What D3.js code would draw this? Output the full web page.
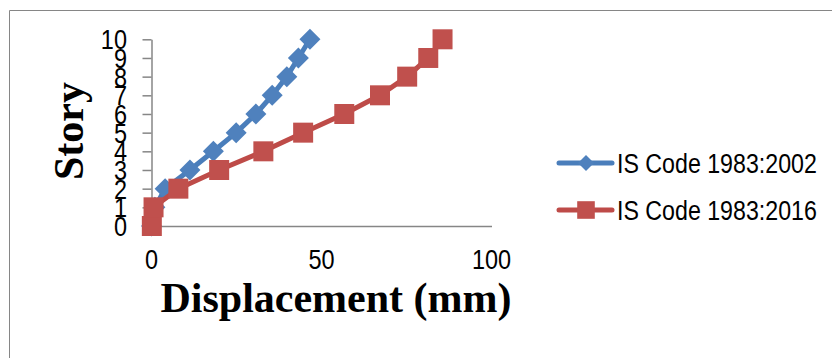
<!DOCTYPE html>
<html>
<head>
<meta charset="utf-8">
<script src="https://cdn.jsdelivr.net/npm/d3@7"></script>
<style>
  html, body { margin: 0; padding: 0; background: #fff; }
  svg { display: block; }
</style>
</head>
<body>
<svg id="chart" width="832" height="358"></svg>
<script>
// Story levels and lateral displacement (mm) per code revision
const stories = [0, 1, 2, 3, 4, 5, 6, 7, 8, 9, 10];
const disp2002 = [0, 1.0, 4.0, 11.3, 18.2, 24.9, 30.7, 35.5, 39.8, 43.2, 46.6];
const disp2016 = [0.1, 0.6, 7.9, 19.9, 32.9, 44.6, 56.7, 67.2, 75.2, 81.4, 85.6];
const seriesNames = ["IS Code 1983:2002", "IS Code 1983:2016"];
const xTicks = [0, 50, 100];
const yTicks = [0, 1, 2, 3, 4, 5, 6, 7, 8, 9, 10];

const svg = d3.select("#chart");
const labelFont = "'Liberation Sans', Arial, sans-serif";
const titleFont = "'Liberation Serif', 'Times New Roman', serif";
const axisGrey = "#868686";
const labelSize = 23.5;
const stretch = 1.18; // tall, narrow label glyphs

// outer frame (runs off the right and bottom edges)
svg.append("path")
  .attr("d", "M9.5,358 L9.5,10.5 L832,10.5")
  .attr("fill", "none").attr("stroke", axisGrey).attr("stroke-width", 1);

const x = d3.scaleLinear().domain([0, 100]).range([151.5, 491.5]);
const y = d3.scaleLinear().domain([0, 10]).range([226, 39.3]);

// y axis: line with outward ticks
const yAxis = svg.append("g").attr("transform", `translate(${x(0)},0)`)
  .call(d3.axisLeft(y).tickValues(yTicks).tickSize(9).tickSizeOuter(0).tickFormat(""));
yAxis.select(".domain").attr("stroke", axisGrey).attr("stroke-width", 1.5);
yAxis.selectAll(".tick line").attr("stroke", axisGrey).attr("stroke-width", 1.5);

// y labels, right-aligned left of the ticks
svg.append("g").selectAll("g").data(yTicks).join("g")
  .attr("transform", d => `translate(127,${y(d)}) scale(1,${stretch})`)
  .append("text")
  .attr("text-anchor", "end").attr("dy", "0.358em")
  .attr("font-family", labelFont).attr("font-size", labelSize).attr("fill", "#000")
  .text(d => d);

// x axis: plain line, labels below
const xAxis = svg.append("g").attr("transform", `translate(0,${y(0)})`)
  .call(d3.axisBottom(x).tickValues(xTicks).tickSize(0).tickSizeOuter(0).tickFormat(""));
xAxis.select(".domain").attr("stroke", axisGrey).attr("stroke-width", 1.5);

svg.append("g").selectAll("g").data(xTicks).join("g")
  .attr("transform", d => `translate(${x(d)},269) scale(1,${stretch})`)
  .append("text")
  .attr("text-anchor", "middle")
  .attr("font-family", labelFont).attr("font-size", labelSize).attr("fill", "#000")
  .text(d => d);

// axis titles
svg.append("text")
  .attr("x", 336).attr("y", 312)
  .attr("text-anchor", "middle")
  .attr("font-family", titleFont).attr("font-weight", "bold").attr("font-size", 42)
  .text("Displacement (mm)");
svg.append("text")
  .attr("transform", "translate(83,131) rotate(-90)")
  .attr("text-anchor", "middle")
  .attr("font-family", titleFont).attr("font-weight", "bold").attr("font-size", 42)
  .text("Story");

const diamond = r => `M0,${-r} L${r},0 L0,${r} L${-r},0 Z`;
const square = r => `M${-r},${-r} L${r},${-r} L${r},${r} L${-r},${r} Z`;

const series = [
  { name: seriesNames[0], values: disp2002, line: "#4a7ebb", fill: "#4f81bd", marker: diamond, size: 10.5, legendSize: 8 },
  { name: seriesNames[1], values: disp2016, line: "#be4b48", fill: "#c0504d", marker: square, size: 10, legendSize: 8.8 }
];

const line = d3.line().x(d => x(d[0])).y(d => y(d[1]));

series.forEach(s => {
  const pts = s.values.map((v, i) => [v, stories[i]]);
  const g = svg.append("g");
  g.append("path").datum(pts)
    .attr("d", line)
    .attr("fill", "none").attr("stroke", s.line)
    .attr("stroke-width", 5).attr("stroke-linejoin", "round").attr("stroke-linecap", "round");
  g.selectAll("path.m").data(pts).join("path")
    .attr("class", "m")
    .attr("d", s.marker(s.size))
    .attr("transform", d => `translate(${x(d[0])},${y(d[1])})`)
    .attr("fill", s.fill);
});

// legend
const legend = svg.append("g");
series.forEach((s, i) => {
  const ly = 163 + i * 47;
  legend.append("line")
    .attr("x1", 559).attr("x2", 612).attr("y1", ly).attr("y2", ly)
    .attr("stroke", s.line).attr("stroke-width", 5).attr("stroke-linecap", "round");
  legend.append("path").attr("d", s.marker(s.legendSize))
    .attr("transform", `translate(586,${ly})`)
    .attr("fill", s.fill);
  legend.append("g")
    .attr("transform", `translate(617,${ly}) scale(1,${stretch})`)
    .append("text")
    .attr("dy", "0.358em")
    .attr("font-family", labelFont).attr("font-size", 23.2).attr("fill", "#000")
    .text(s.name);
});
</script>
</body>
</html>
